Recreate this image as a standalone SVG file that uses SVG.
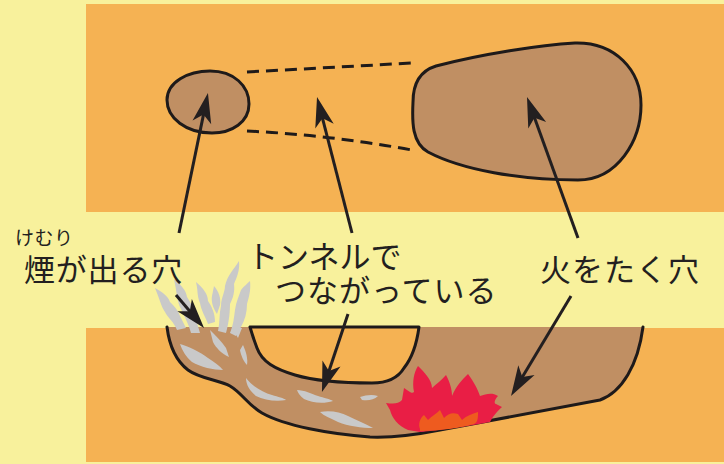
<svg xmlns="http://www.w3.org/2000/svg" width="724" height="464" viewBox="0 0 724 464">
  <defs>
    <style>
      .ground { fill: #F5B253; }
      .soil { fill: #C08F63; }
      .outline { fill: none; stroke: #1E1A1A; stroke-width: 3; stroke-linejoin: round; stroke-linecap: round; }
      .hole { fill: #C08F63; stroke: #1E1A1A; stroke-width: 3; }
      .dash { fill: none; stroke: #1E1A1A; stroke-width: 3; stroke-dasharray: 12 7; }
      .smoke { fill: #C9C9C9; }
      .arrow { fill: none; stroke: #231F20; stroke-width: 3; marker-end: url(#head); }
      .label { font-family: "Noto Sans CJK JP", "Noto Sans", sans-serif; fill: #231F20; }
    </style>
    <marker id="head" viewBox="0 0 30 20" refX="10" refY="10" markerWidth="30" markerHeight="20" markerUnits="userSpaceOnUse" orient="auto" overflow="visible">
      <path d="M30,10 L0,0.5 L8,10 L0,19.5 Z" fill="#231F20"/>
    </marker>
  </defs>

  <!-- background -->
  <rect x="0" y="0" width="724" height="464" fill="#F8F19C"/>

  <!-- top view band -->
  <rect class="ground" x="86" y="4" width="638" height="208"/>
  <!-- cross-section band -->
  <rect class="ground" x="86" y="328" width="638" height="134"/>

  <!-- top view: holes joined by a tunnel -->
  <g id="smoke-hole-top">
    <path class="hole" d="M167,100 C167,82 188,71 210,71 C234,71 249,86 249,104 C249,122 232,133 212,133 C186,133 167,118 167,100 Z"/>
  </g>
  <g id="tunnel-top">
    <path class="dash" d="M247,72 L412,63"/>
    <path class="dash" d="M247,131 Q330,135 412,150"/>
  </g>
  <g id="fire-hole-top">
    <path class="hole" d="M436,66 C482,54 540,45 575,43 C615,42 641,70 641,105 C641,140 618,180 578,180 C520,180 462,170 428,152 C412,143 412,122 413,102 C413,84 420,71 436,66 Z"/>
  </g>

  <!-- cross-section -->
  <g id="section">
    <path class="soil" d="M167,327 C169,343 175,360 188,370 C200,379 220,380 230,386 C242,393 248,405 262,413 C285,426 330,434 370,437 C395,438 420,434 440,430 L600,400 C622,392 638,365 643,327 Z"/>
    <path class="outline" d="M167,327 C169,343 175,360 188,370 C200,379 220,380 230,386 C242,393 248,405 262,413 C285,426 330,434 370,437 C395,438 420,434 440,430 L600,400 C622,392 638,365 643,327"/>
    <path fill="#F5B253" stroke="#1E1A1A" stroke-width="3" stroke-linejoin="round" d="M250,327 L419,327 C417,342 412,358 404,368 C398,378 388,383 372,383 C345,383 315,381 295,375 C275,369 262,362 257,348 C254,340 252,334 250,327 Z"/>
  </g>

  <!-- smoke rising from the chimney hole and drifting through the tunnel -->
  <g id="smoke">
    <path class="smoke" d="M155,288 C162,292 168,296 170,302 C174,306 178,310 180,316 L186,328 L177,330 C174,322 168,318 165,312 C161,306 160,300 155,288 Z"/>
    <path class="smoke" d="M174,279 C181,285 186,290 187,297 C191,303 194,309 195,316 L200,333 L191,333 C188,322 184,316 181,309 C177,302 177,293 174,279 Z"/>
    <path class="smoke" d="M196,282 C203,288 208,294 208,301 C212,307 215,313 215,322 L208,324 C205,316 201,310 200,303 C197,296 198,290 196,282 Z"/>
    <path class="smoke" d="M214,286 C219,292 221,298 220,305 L217,314 C213,308 211,302 212,296 Z"/>
    <path class="smoke" d="M239,261 C240,270 237,277 234,284 C235,292 233,298 230,304 C230,312 229,322 226,333 L218,331 C220,322 219,314 221,306 C221,298 225,292 225,286 C227,276 234,269 239,261 Z"/>
    <path class="smoke" d="M250,281 C251,290 249,297 247,304 C247,312 245,320 241,327 L236,336 L230,333 C233,326 234,318 235,310 C236,302 239,296 241,290 C244,286 247,284 250,281 Z"/>
    <path class="smoke" d="M180,344 C188,346 200,352 208,358 C214,362 220,366 223,370 C214,370 200,367 192,362 C186,357 182,350 180,344 Z"/>
    <path class="smoke" d="M210,330 C216,336 222,342 226,348 L229,357 C222,354 216,348 213,342 Z"/>
    <path class="smoke" d="M243,345 C246,352 248,358 247,365 C244,362 241,356 240,350 Z"/>
    <path class="smoke" d="M232,328 L242,328 L238,338 Z"/>
    <path class="smoke" d="M246,378 C252,386 262,392 272,395 C278,397 284,398 286,400 C276,402 264,400 256,396 C250,391 246,385 246,378 Z"/>
    <path class="smoke" d="M297,390 C304,390 312,394 318,396 C324,398 330,399 333,401 C324,404 312,403 304,399 C300,396 298,393 297,390 Z"/>
    <path class="smoke" d="M360,397 C366,395 372,394 378,396 C374,400 368,401 362,400 Z"/>
    <path class="smoke" d="M320,412 C330,410 340,412 348,416 C356,420 366,424 373,428 C362,428 348,426 338,422 C330,418 324,416 320,412 Z"/>
  </g>

  <!-- fire in the fire hole -->
  <g id="fire">
    <path fill="#E91E45" d="M408,430 C398,426 392,418 390,410 L386,403 C394,404 398,404 402,400 L404,388 C410,392 412,394 414,392 C412,382 414,372 418,366 C424,372 432,380 432,388 C436,384 442,380 446,375 C450,382 452,390 452,396 C456,386 462,380 468,374 C474,382 478,390 480,396 C486,394 492,392 498,396 C494,400 494,404 496,404 L502,407 C496,412 492,418 490,422 C470,426 440,430 420,432 Z"/>
    <path fill="#EE5B1F" d="M420,429 C418,424 420,418 424,415 L428,420 C432,416 436,414 440,410 L444,418 C448,414 452,412 458,414 L462,420 C466,416 472,414 478,412 C478,418 478,422 474,424 C460,428 440,431 420,431 Z"/>
  </g>

  <!-- leader arrows -->
  <g id="connectors">
    <path class="arrow" d="M179,233 L203.9,112.6"/>
    <path class="arrow" d="M352,233 L322,116.4"/>
    <path class="arrow" d="M578,238 L533.8,115.8"/>
    <path class="arrow" d="M176,295 L191.1,312.8"/>
    <path class="arrow" d="M348,314 L328.3,373"/>
    <path class="arrow" d="M571,296 L521.3,378.8"/>
  </g>

  <!-- labels -->
  <g id="label-smoke-hole">
    <text class="label" x="15" y="245" font-size="19" letter-spacing="0.5">けむり</text>
    <text class="label" x="24" y="281" font-size="31" letter-spacing="0.8">煙が出る穴</text>
  </g>
  <g id="label-tunnel">
    <text class="label" x="247" y="268" font-size="31">トンネルで</text>
    <text class="label" x="275" y="302" font-size="31" letter-spacing="1">つながっている</text>
  </g>
  <g id="label-fire-hole">
    <text class="label" x="540" y="281" font-size="31" letter-spacing="1">火をたく穴</text>
  </g>
</svg>
